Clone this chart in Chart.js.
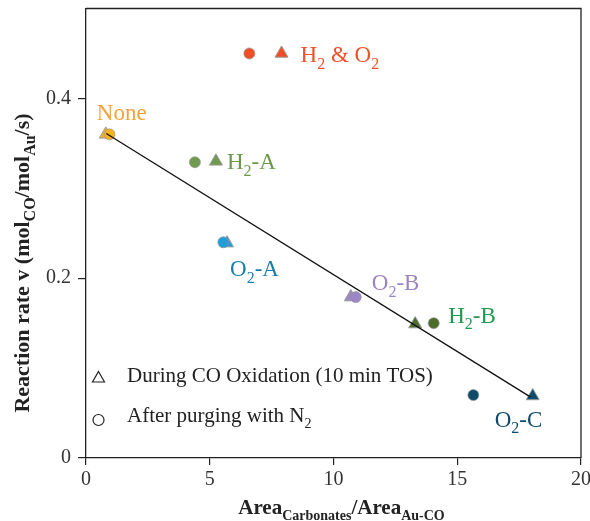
<!DOCTYPE html>
<html>
<head>
<meta charset="utf-8">
<script src="https://cdn.jsdelivr.net/npm/chart.js@4/dist/chart.umd.min.js"></script>
<style>
  html, body { margin: 0; padding: 0; background: #fff; }
  #wrap { width: 590px; height: 521px; }
</style>
</head>
<body>
<div id="wrap"><canvas id="rateChart"></canvas></div>
<script>
// catalyst pretreatments (labels use _{} for subscripts)
const categories = ["H_{2} & O_{2}", "None", "H_{2}-A", "O_{2}-A", "O_{2}-B", "H_{2}-B", "O_{2}-C"];
// triangles: during CO oxidation (10 min TOS)
const duringX = [7.9, 0.8, 5.25, 5.7, 10.7, 13.3, 18.05];
const duringY = [0.45, 0.36, 0.33, 0.239, 0.179, 0.149, 0.069];
// circles: after purging with N2
const afterX = [6.6, 0.95, 4.4, 5.55, 10.9, 14.05, 15.65];
const afterY = [0.45, 0.36, 0.329, 0.24, 0.179, 0.15, 0.07];
// linear trend line end points
const trendX = [0.82, 17.95];
const trendY = [0.361, 0.068];
const xTicks = [0, 5, 10, 15, 20];
const yTicks = [0, 0.2, 0.4];

const pointColors = ["#EE4F24", "#F5B120", "#6E9B4E", "#1F9FD9", "#9C86C5", "#4D6C2E", "#0F4C6B"];
const labelColors = ["#EF5128", "#F7A23A", "#6A9A49", "#1B7DAA", "#9A85C3", "#1F9A4E", "#0F4C6B"];
// label offset (px) from the triangle marker: [dx, dy of baseline]
const labelOffsets = [[19, 9], [-9, -14], [11, 8], [3, 33], [21, -7], [33, -1], [-38, 31]];

const SERIF = "'Liberation Serif', 'Times New Roman', serif";

// draw text with _{...} subscripts
function richText(ctx, str, x, y, size, bold, align, subRatio) {
  const ratio = subRatio || 0.68;
  const parts = [];
  str.split(/(_\{[^}]*\})/).forEach(s => {
    if (!s) return;
    if (s.startsWith("_{")) parts.push([s.slice(2, -1), true]);
    else parts.push([s, false]);
  });
  const w = bold ? "bold " : "";
  const font = sub => w + (sub ? Math.round(size * ratio) : size) + "px " + SERIF;
  let total = 0;
  parts.forEach(p => { ctx.font = font(p[1]); total += ctx.measureText(p[0]).width; });
  let cx = align === "center" ? x - total / 2 : x;
  ctx.textAlign = "left";
  ctx.textBaseline = "alphabetic";
  parts.forEach(p => {
    ctx.font = font(p[1]);
    ctx.fillText(p[0], cx, p[1] ? y + size * 0.28 : y);
    cx += ctx.measureText(p[0]).width;
  });
}

const decorations = {
  id: "decorations",
  beforeDatasetsDraw(chart) {
    const { ctx, chartArea: a } = chart;
    ctx.save();
    ctx.strokeStyle = "#222";
    ctx.lineWidth = 1.3;
    ctx.beginPath();
    ctx.moveTo(a.left, a.top);
    ctx.lineTo(a.right, a.top);
    ctx.lineTo(a.right, a.bottom);
    ctx.stroke();
    ctx.restore();
  },
  afterDraw(chart) {
    const { ctx, chartArea: a } = chart;
    const xs = chart.scales.x, ys = chart.scales.y;
    ctx.save();
    // point labels
    categories.forEach((c, i) => {
      ctx.fillStyle = labelColors[i];
      const px = xs.getPixelForValue(duringX[i]) + labelOffsets[i][0];
      const py = ys.getPixelForValue(duringY[i]) + labelOffsets[i][1];
      richText(ctx, c, px, py, 23, false, "left");
    });
    // in-plot legend
    ctx.strokeStyle = "#222";
    ctx.lineWidth = 1.2;
    ctx.beginPath();
    ctx.moveTo(98.5, 371.5);
    ctx.lineTo(104.5, 382);
    ctx.lineTo(92.5, 382);
    ctx.closePath();
    ctx.stroke();
    ctx.beginPath();
    ctx.arc(98.5, 420, 5.5, 0, Math.PI * 2);
    ctx.stroke();
    ctx.fillStyle = "#222";
    richText(ctx, "During CO Oxidation (10 min TOS)", 127, 382, 21, false, "left");
    richText(ctx, "After purging with N_{2}", 127, 422, 21, false, "left");
    // axis titles
    richText(ctx, "Area_{Carbonates}/Area_{Au-CO}", (a.left + a.right) / 2 + 8, 514, 21, true, "center", 0.66);
    ctx.translate(29, 263);
    ctx.rotate(-Math.PI / 2);
    richText(ctx, "Reaction rate v (mol_{CO}/mol_{Au}/s)", 0, 0, 22, true, "center", 0.72);
    ctx.restore();
  }
};

const ctx = document.getElementById("rateChart").getContext("2d");

new Chart(ctx, {
  type: "scatter",
  data: {
    datasets: [
      {
        label: "After purging with N2",
        data: afterX.map((x, i) => ({ x: x, y: afterY[i] })),
        pointStyle: "circle",
        pointRadius: 5.5,
        backgroundColor: pointColors,
        borderColor: "rgba(150,150,150,0.7)",
        borderWidth: 1,
        order: 1
      },
      {
        label: "During CO Oxidation (10 min TOS)",
        data: duringX.map((x, i) => ({ x: x, y: duringY[i] })),
        pointStyle: "triangle",
        pointRadius: 7.5,
        backgroundColor: pointColors,
        borderColor: "#9a9a9a",
        borderWidth: 1,
        order: 2
      },
      {
        type: "line",
        label: "trend",
        data: trendX.map((x, i) => ({ x: x, y: trendY[i] })),
        borderColor: "#111",
        borderWidth: 1.3,
        pointRadius: 0,
        fill: false,
        order: 0
      }
    ]
  },
  options: {
    responsive: true,
    maintainAspectRatio: false,
    animation: false,
    layout: { padding: { top: 8, right: 9, left: 0, bottom: 0 } },
    plugins: {
      legend: { display: false },
      title: { display: false },
      tooltip: { enabled: false }
    },
    scales: {
      x: {
        type: "linear",
        min: 0,
        max: 20,
        afterBuildTicks: s => { s.ticks = xTicks.map(v => ({ value: v })); },
        afterFit: s => { s.height = 63; s.paddingLeft = 0; s.paddingRight = 0; },
        grid: { drawOnChartArea: false, drawTicks: true, tickLength: 7, color: "#222", lineWidth: 1.2 },
        border: { display: true, color: "#222", width: 1.3 },
        ticks: { color: "#333", padding: 3, font: { family: SERIF, size: 20 } }
      },
      y: {
        type: "linear",
        min: 0,
        max: 0.5,
        afterBuildTicks: s => { s.ticks = yTicks.map(v => ({ value: v })); },
        afterFit: s => { s.width = 86; s.paddingTop = 0; s.paddingBottom = 0; },
        grid: { drawOnChartArea: false, drawTicks: true, tickLength: 8, color: "#222", lineWidth: 1.2 },
        border: { display: true, color: "#222", width: 1.3 },
        ticks: {
          color: "#333",
          padding: 7,
          font: { family: SERIF, size: 20 },
          callback: v => (v === 0 ? "0" : v.toFixed(1))
        }
      }
    }
  },
  plugins: [decorations]
});
</script>
</body>
</html>
